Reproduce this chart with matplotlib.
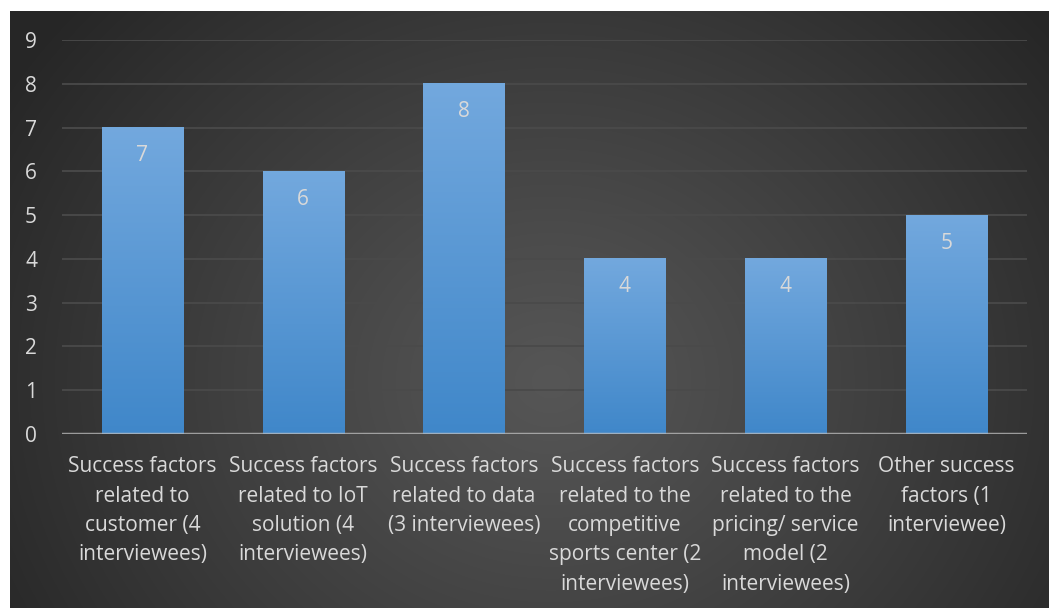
import numpy as np
import matplotlib
matplotlib.use("Agg")
import matplotlib.pyplot as plt
from matplotlib.colors import LinearSegmentedColormap

categories = [
    "Success factors\nrelated to\ncustomer (4\ninterviewees)",
    "Success factors\nrelated to IoT\nsolution (4\ninterviewees)",
    "Success factors\nrelated to data\n(3 interviewees)",
    "Success factors\nrelated to the\ncompetitive\nsports center (2\ninterviewees)",
    "Success factors\nrelated to the\npricing/ service\nmodel (2\ninterviewees)",
    "Other success\nfactors (1\ninterviewee)",
]
values = [7, 6, 8, 4, 4, 5]
yticks = list(range(0, 10))

W, H = 1049, 608
fig = plt.figure(figsize=(W / 100, H / 100), dpi=100)
fig.patch.set_facecolor("white")

FONT = ["Open Sans", "DejaVu Sans"]
FS = 15
TXT = "#d9d9d9"

# background radial gradient
bx0, by0 = 10, 11
bg_ax = fig.add_axes([bx0 / W, 0, 1 - bx0 / W, (H - by0) / H])
bw, bh = W - bx0, H - by0
yy, xx = np.mgrid[0:bh, 0:bw]
cx, cy = bw * 0.52, bh * 0.62
r = np.sqrt(((xx - cx) / (bw * 0.62)) ** 2 + ((yy - cy) / (bh * 0.95)) ** 2)
r = np.clip(r, 0, 1)
inner, outer = 86, 38
val = (inner + (outer - inner) * r ** 1.1) / 255.0
img = np.dstack([val, val, val])
bg_ax.imshow(img, aspect="auto", interpolation="bilinear")
bg_ax.set_axis_off()

# plot area
px0, px1 = 62, 1027
py_top, py0 = 40, 434
ymax = 9
ax = fig.add_axes([px0 / W, (H - py0) / H, (px1 - px0) / W, (py0 - py_top) / H])
ax.set_facecolor("none")
ax.patch.set_alpha(0)

x = np.arange(len(values))
bar_w = 0.505
cmap = LinearSegmentedColormap.from_list("b", [(0.25, 0.53, 0.79), (0.45, 0.66, 0.87)])
grad = np.linspace(0, 1, 256).reshape(-1, 1)
for xi, v in zip(x, values):
    ax.imshow(grad, cmap=cmap, origin="lower", aspect="auto",
              extent=[xi - bar_w / 2, xi + bar_w / 2, 0, v], zorder=2)
    ax.text(xi, v - 0.64, str(v), ha="center", va="center", color=TXT,
            fontsize=FS, family=FONT, zorder=4)

ax.set_xlim(-0.5, len(values) - 0.5)
ax.set_ylim(0, ymax)
ax.set_yticks(yticks)
ax.set_yticklabels([str(t) for t in yticks], family=FONT, fontsize=FS, color=TXT)
for t in yticks[1:]:
    ax.axhline(t, color="#4a4a4a", lw=1.3, zorder=1)
ax.axhline(0, color="#bfbfbf", lw=2.5, alpha=0.75, zorder=3)

ax.set_xticks(x)
ax.set_xticklabels(categories, family=FONT, fontsize=FS, color=TXT,
                   linespacing=1.52, va="top")
ax.tick_params(axis="both", length=0)
ax.tick_params(axis="y", pad=18)
ax.tick_params(axis="x", pad=16)
for s in ax.spines.values():
    s.set_visible(False)

fig.savefig("out.png", dpi=100, facecolor=fig.get_facecolor())
